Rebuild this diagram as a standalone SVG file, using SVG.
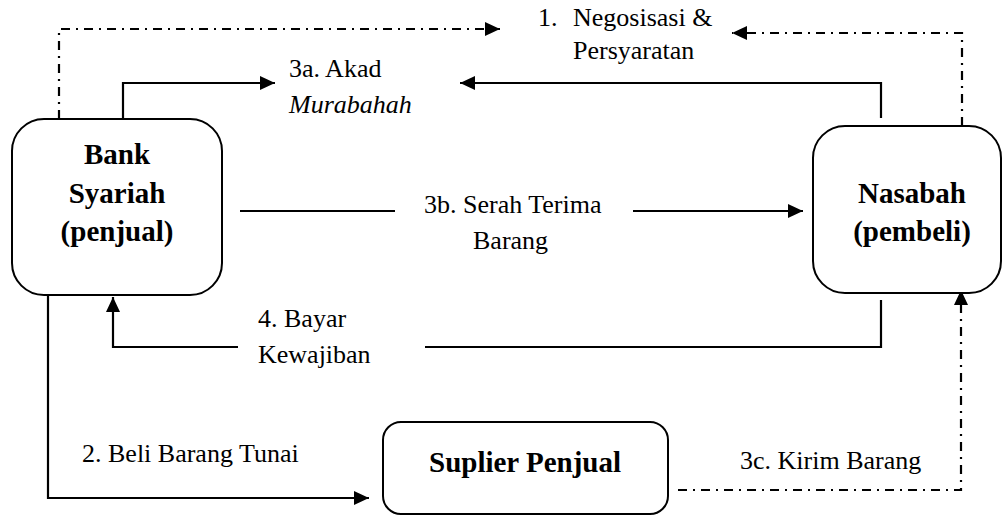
<svg xmlns="http://www.w3.org/2000/svg" width="1004" height="516" viewBox="0 0 1004 516">
<defs>
<marker id="arr" markerUnits="userSpaceOnUse" markerWidth="16" markerHeight="14" refX="15" refY="7" orient="auto">
<path d="M0,0 L15,7 L0,14 Z" fill="#000"/>
</marker>
<style>
.box{fill:#fff;stroke:#000;stroke-width:2}
.ln{fill:none;stroke:#000;stroke-width:2.2}
.dd{fill:none;stroke:#000;stroke-width:2.2;stroke-dasharray:9 6 2 6}
text{fill:#000;font-family:'Liberation Serif','Times New Roman',Times,'DejaVu Serif',serif}
.t{font-size:26px}
.b{font-size:29px;font-weight:bold}
</style>
</defs>
<rect width="1004" height="516" fill="#fff"/>
<g id="connectors">
<path class="dd" d="M59,119 V29 H500" marker-end="url(#arr)"/>
<path class="dd" d="M962,126 V33 H732" marker-end="url(#arr)"/>
<path class="ln" d="M123,119 V83 H275" marker-end="url(#arr)"/>
<path class="ln" d="M881,118 V83 H460" marker-end="url(#arr)"/>
<path class="ln" d="M240,211 H395"/>
<path class="ln" d="M633,211 H803" marker-end="url(#arr)"/>
<path class="ln" d="M881,300 V347 H425"/>
<path class="ln" d="M238,347 H113 V297" marker-end="url(#arr)"/>
<path class="ln" d="M48,295 V498 H369" marker-end="url(#arr)"/>
<path class="dd" d="M678,490 H961 V290" marker-end="url(#arr)"/>
<text class="t" x="538" y="26">1.</text>
<text class="t" x="573" y="26">Negosisasi &amp;</text>
<text class="t" x="573" y="59">Persyaratan</text>
<text class="t" x="289" y="77">3a. Akad</text>
<text class="t" x="289" y="113" font-style="italic">Murabahah</text>
<text class="t" x="424" y="213">3b. Serah Terima</text>
<text class="t" x="473" y="249">Barang</text>
<text class="t" x="258" y="327">4. Bayar</text>
<text class="t" x="258" y="363">Kewajiban</text>
<text class="t" x="82" y="462">2. Beli Barang Tunai</text>
<text class="t" x="740" y="469">3c. Kirim Barang</text>
</g>
<g id="bank">
<rect class="box" x="12" y="119" width="210" height="176" rx="32"/>
<text class="b" x="117" y="164" text-anchor="middle">Bank</text>
<text class="b" x="117" y="203" text-anchor="middle">Syariah</text>
<text class="b" x="117" y="241" text-anchor="middle">(penjual)</text>
</g>
<g id="nasabah">
<rect class="box" x="813" y="126" width="188" height="167" rx="32"/>
<text class="b" x="912" y="203" text-anchor="middle">Nasabah</text>
<text class="b" x="912" y="241" text-anchor="middle">(pembeli)</text>
</g>
<g id="suplier">
<rect class="box" x="383" y="422" width="285" height="92" rx="18"/>
<text class="b" x="429" y="472">Suplier Penjual</text>
</g>
</svg>
